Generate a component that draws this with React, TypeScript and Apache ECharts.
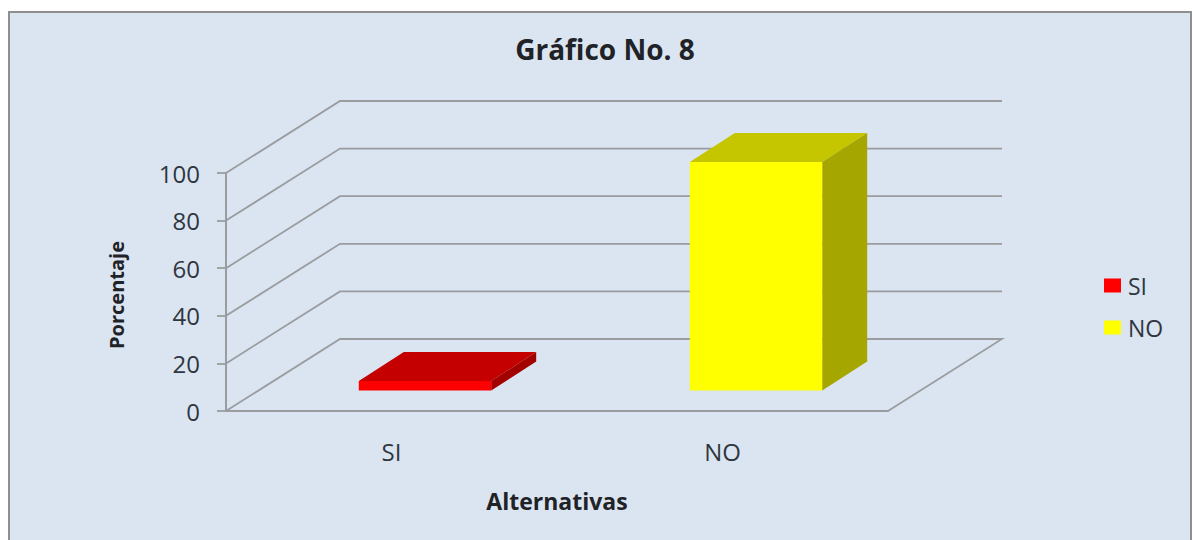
import React, { useEffect, useRef } from "react";
import * as echarts from "echarts";

const categories = ["SI", "NO"];
const seriesNames = ["SI", "NO"];
const siValues = [[0, 4]];
const noValues = [[1, 96]];
const gridTicks = [0, 20, 40, 60, 80, 100];

const FONT = "Open Sans";
const TEXT = "#2f3640";
const LINE = "#9a9c9f";
const WALL_DX = 114;
const WALL_DY = -72;
const BAR_DX = 33.5;
const BAR_DY = -20.5;
const DEPTH_DX = 45;
const DEPTH_DY = -29;
const BAR_WIDTH = 0.4;

function renderWalls(params: any, api: any) {
  const v = api.value(0);
  const p = api.coord([0, v]);
  const left = params.coordSys.x;
  const right = left + params.coordSys.width;
  const y = p[1];
  const style = { stroke: LINE, lineWidth: 1.8, fill: "none" };
  const pts =
    v === 0
      ? [
          [left, y],
          [left + WALL_DX, y + WALL_DY],
          [right + WALL_DX, y + WALL_DY],
          [right, y],
        ]
      : [
          [left, y],
          [left + WALL_DX, y + WALL_DY],
          [right + WALL_DX, y + WALL_DY],
        ];
  return { type: "polyline", shape: { points: pts }, style, silent: true };
}

function barRenderer(front: string, top: string, side: string) {
  return (_params: any, api: any) => {
    const base = api.coord([api.value(0), 0]);
    const head = api.coord([api.value(0), api.value(1)]);
    const w = api.size([1, 0])[0] * BAR_WIDTH;
    const x0 = base[0] - w / 2 + BAR_DX;
    const x1 = x0 + w;
    const y0 = base[1] + BAR_DY;
    const y1 = head[1] + BAR_DY;
    const dx = DEPTH_DX;
    const dy = DEPTH_DY;
    return {
      type: "group",
      children: [
        { type: "polygon", shape: { points: [[x0, y1], [x1, y1], [x1 + dx, y1 + dy], [x0 + dx, y1 + dy]] }, style: { fill: top } },
        { type: "polygon", shape: { points: [[x1, y0], [x1, y1], [x1 + dx, y1 + dy], [x1 + dx, y0 + dy]] }, style: { fill: side } },
        { type: "polygon", shape: { points: [[x0, y0], [x1, y0], [x1, y1], [x0, y1]] }, style: { fill: front } },
      ],
    };
  };
}

export default function App() {
  const ref = useRef<HTMLDivElement>(null);
  useEffect(() => {
    const chart = echarts.init(ref.current!, undefined, { renderer: "svg" });
    chart.setOption({
      animation: false,
      backgroundColor: "#ffffff",
      graphic: [
        {
          type: "rect",
          z: -10,
          shape: { x: 9, y: 12, width: 1182, height: 540 },
          style: { fill: "#DBE5F1", stroke: "#8f8f8f", lineWidth: 2 },
          silent: true,
        },
      ],
      title: {
        text: "Gráfico No. 8",
        left: 600,
        top: 30,
        textAlign: "center",
        textStyle: { fontFamily: FONT, fontSize: 28, fontWeight: "bold", color: "#1f2328" },
      },
      legend: {
        data: seriesNames,
        orient: "vertical",
        left: 1099,
        top: 269,
        itemWidth: 17,
        itemHeight: 14,
        itemGap: 19,
        icon: "rect",
        textStyle: { fontFamily: FONT, fontSize: 23, color: TEXT, padding: [0, 0, 0, 2] },
      },
      grid: { left: 226, top: 173, width: 662, height: 238 },
      xAxis: {
        type: "category",
        data: categories,
        axisLine: { show: true, lineStyle: { color: LINE, width: 2 } },
        axisTick: { show: false },
        axisLabel: { fontFamily: FONT, fontSize: 24, color: TEXT, margin: 28 },
        name: "Alternativas",
        nameLocation: "middle",
        nameGap: 78,
        nameTextStyle: { fontFamily: FONT, fontSize: 23, fontWeight: "bold", color: "#1f2328" },
      },
      yAxis: {
        type: "value",
        min: 0,
        max: 100,
        interval: 20,
        splitLine: { show: false },
        axisLine: { show: true, lineStyle: { color: LINE, width: 2 } },
        axisTick: { show: true, length: 9, lineStyle: { color: LINE, width: 1.8 } },
        axisLabel: { fontFamily: FONT, fontSize: 24, color: TEXT, margin: 26, padding: [7, 0, 0, 0] },
        name: "Porcentaje",
        nameLocation: "middle",
        nameRotate: 90,
        nameGap: 100,
        nameTextStyle: { fontFamily: FONT, fontSize: 20, fontWeight: "bold", color: "#1f2328", padding: [0, 6, 0, 0] },
      },
      series: [
        {
          type: "custom",
          name: "walls",
          z: 1,
          silent: true,
          clip: false,
          encode: { y: 0 },
          data: gridTicks.map((t) => [t]),
          renderItem: renderWalls,
        },
        {
          type: "custom",
          name: seriesNames[0],
          z: 2,
          clip: false,
          itemStyle: { color: "#FF0000" },
          encode: { x: 0, y: 1 },
          data: siValues,
          renderItem: barRenderer("#FF0000", "#C40000", "#A30000"),
        },
        {
          type: "custom",
          name: seriesNames[1],
          z: 3,
          clip: false,
          itemStyle: { color: "#FFFF00" },
          encode: { x: 0, y: 1 },
          data: noValues,
          renderItem: barRenderer("#FFFF00", "#C6C600", "#A6A600"),
        },
      ],
    });
    return () => chart.dispose();
  }, []);
  return <div ref={ref} style={{ position: "absolute", left: 0, top: 0, width: 1193, height: 540 }} />;
}
